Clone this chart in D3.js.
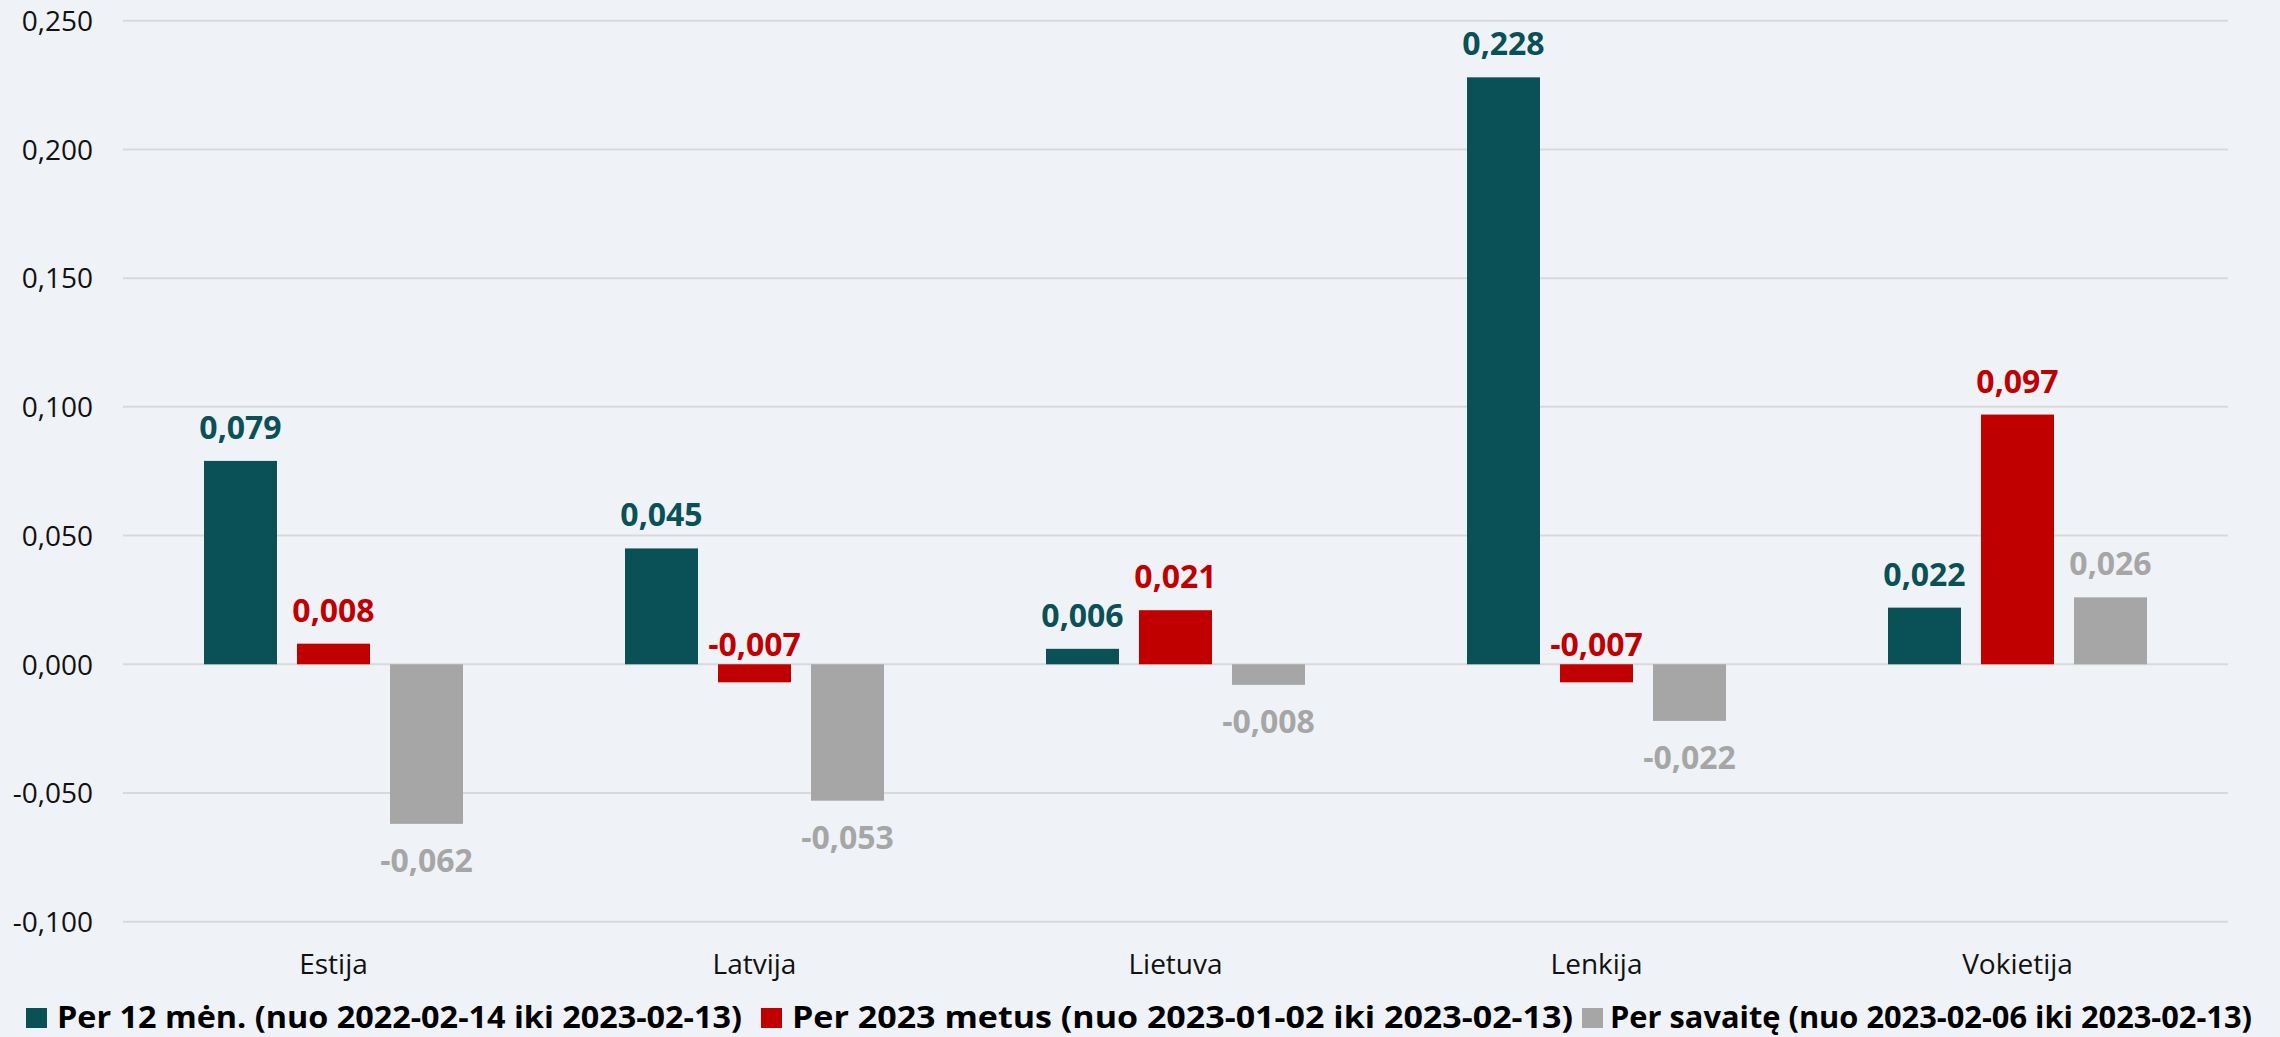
<!DOCTYPE html>
<html>
<head>
<meta charset="utf-8">
<script src="https://cdn.jsdelivr.net/npm/d3@7"></script>
<style>
  html, body { margin: 0; padding: 0; background: #eff3f7; }
  svg { display: block; font-family: "Open Sans", sans-serif; }
</style>
</head>
<body>
<div id="chart"></div>
<script>
// data
var countries = ["Estija", "Latvija", "Lietuva", "Lenkija", "Vokietija"];
var seriesNames = [
    "Per 12 mėn. (nuo 2022-02-14 iki 2023-02-13)",
    "Per 2023 metus (nuo 2023-01-02 iki 2023-02-13)",
    "Per savaitę (nuo 2023-02-06 iki 2023-02-13)"
];
var per12men = [0.079, 0.045, 0.006, 0.228, 0.022];
var per2023 = [0.008, -0.007, 0.021, -0.007, 0.097];
var perSavaite = [-0.062, -0.053, -0.008, -0.022, 0.026];
var yTicks = [-0.1, -0.05, 0, 0.05, 0.1, 0.15, 0.2, 0.25];

var colors = ["#0a5057", "#c00000", "#a6a6a6"];

var W = 2280, H = 1037;

var svg = d3.select("#chart")
    .append("svg")
    .attr("width", W)
    .attr("height", H);

svg.append("rect").attr("width", W).attr("height", H).attr("fill", "#eff3f7");

var locale = d3.formatLocale({ decimal: ",", thousands: " ", grouping: [3], currency: ["", "€"], minus: "-" });
var fmt = locale.format(".3f");

var x0 = d3.scaleBand()
    .domain(countries)
    .range([123, 2228])
    .padding(0);

var x1 = d3.scaleBand()
    .domain(d3.range(3))
    .range([0, 259])
    .paddingInner(20 / 93)
    .paddingOuter(0);

var groupOffset = (x0.bandwidth() - 259) / 2;

var y = d3.scaleLinear()
    .domain([-0.1, 0.25])
    .range([921.7, 20.7]);

// gridlines
svg.append("g")
    .selectAll("line")
    .data(yTicks)
    .enter().append("line")
    .attr("x1", 123)
    .attr("x2", 2228)
    .attr("y1", function (d) { return y(d); })
    .attr("y2", function (d) { return y(d); })
    .attr("stroke", "#d9d9d9")
    .attr("stroke-width", 2);

// y axis labels
var yAxis = d3.axisLeft(y)
    .tickValues(yTicks)
    .tickFormat(fmt)
    .tickSize(0)
    .tickPadding(0);

var yg = svg.append("g")
    .attr("transform", "translate(93,0)")
    .call(yAxis);
yg.select(".domain").remove();
yg.selectAll("text")
    .attr("font-size", 28)
    .attr("font-family", "Open Sans, sans-serif")
    .attr("fill", "#111")
    .attr("dy", "0.35em");

// x axis labels
var xAxis = d3.axisBottom(x0).tickSize(0).tickPadding(0);
var xg = svg.append("g")
    .attr("transform", "translate(0,974)")
    .call(xAxis);
xg.select(".domain").remove();
xg.selectAll("text")
    .attr("font-size", 28)
    .attr("font-family", "Open Sans, sans-serif")
    .attr("fill", "#111")
    .attr("dy", 0);

// bars
var table = countries.map(function (c, i) {
    return {
        country: c,
        values: [per12men[i], per2023[i], perSavaite[i]].map(function (v, s) {
            return { series: s, value: v };
        })
    };
});

var group = svg.selectAll(".country")
    .data(table)
    .enter().append("g")
    .attr("class", "country")
    .attr("transform", function (d) { return "translate(" + (x0(d.country) + groupOffset) + ",0)"; });

group.selectAll("rect")
    .data(function (d) { return d.values; })
    .enter().append("rect")
    .attr("x", function (d) { return x1(d.series); })
    .attr("width", x1.bandwidth())
    .attr("y", function (d) { return y(Math.max(0, d.value)); })
    .attr("height", function (d) { return Math.abs(y(d.value) - y(0)); })
    .attr("fill", function (d) { return colors[d.series]; });

// value labels
group.selectAll(".lbl")
    .data(function (d) { return d.values; })
    .enter().append("text")
    .attr("class", "lbl")
    .attr("x", function (d) { return x1(d.series) + x1.bandwidth() / 2; })
    .attr("y", function (d) {
        if (d.value >= 0) return y(d.value) - 22;
        if (d.series === 1) return y(0) - 8; // red negatives sit above the axis
        return y(d.value) + 48;
    })
    .attr("text-anchor", "middle")
    .attr("font-size", 32)
    .attr("font-weight", "bold")
    .attr("fill", function (d) { return colors[d.series]; })
    .text(function (d) { return fmt(d.value); });

// legend
var legendItems = [
    { sx: 26, tx: 57, len: 685 },
    { sx: 761, tx: 792, len: 781 },
    { sx: 1582, tx: 1610, len: 642 }
];

var legend = svg.selectAll(".legend")
    .data(seriesNames)
    .enter().append("g")
    .attr("class", "legend");

legend.append("rect")
    .attr("x", function (d, i) { return legendItems[i].sx; })
    .attr("y", 1008)
    .attr("width", 21)
    .attr("height", 20)
    .attr("fill", function (d, i) { return colors[i]; });

legend.append("text")
    .attr("x", function (d, i) { return legendItems[i].tx; })
    .attr("y", 1028)
    .attr("font-size", 30)
    .attr("font-weight", "bold")
    .attr("fill", "#000")
    .attr("textLength", function (d, i) { return legendItems[i].len; })
    .attr("lengthAdjust", "spacingAndGlyphs")
    .text(function (d) { return d; });
</script>
</body>
</html>
